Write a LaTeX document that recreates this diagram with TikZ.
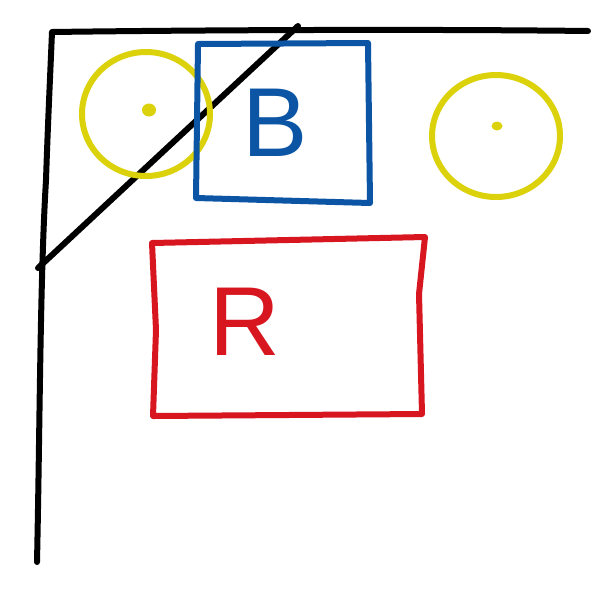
\documentclass[tikz,border=0pt]{standalone}
\usepackage{fontspec}
\setmainfont{Liberation Sans}
\definecolor{penyellow}{RGB}{220,210,12}
\definecolor{penblue}{RGB}{12,85,165}
\definecolor{penred}{RGB}{215,22,32}
\begin{document}
\begin{tikzpicture}[x=1pt,y=-1pt,
  pen/.style={line width=6pt,line cap=round,line join=round},
  letter/.style={inner sep=0pt,font=\fontsize{98}{98}\selectfont}]
\useasboundingbox[fill=white] (0,0) rectangle (609,595);
% black frame
\draw[pen,black] (588,31) .. controls (420,29) and (200,30) .. (52,32)
  .. controls (50,80) and (48,120) .. (46,180)
  .. controls (40,280) and (40,420) .. (37,562);
\draw[pen,black] (298,26) -- (38,268);
% yellow circles
\draw[pen,penyellow] (146,114) ellipse [x radius=64, y radius=62];
\fill[penyellow] (149,110) ellipse [x radius=7, y radius=6.5];
\draw[pen,penyellow] (496,136) ellipse [x radius=64, y radius=61];
\fill[penyellow] (497,126) ellipse [x radius=5.5, y radius=4.5];
% blue box
\draw[pen,penblue] (198,44) -- (368,43) -- (370,203) -- (196,198) -- cycle;
\node[letter,text=penblue] (B) at (275,123) {B};
% red box
\draw[pen,penred] (152,243) -- (425,237) -- (419,294) -- (422,414) -- (153,416) -- (156,330) -- cycle;
\node[letter,text=penred] (R) at (245,322) {R};
\end{tikzpicture}
\end{document}
